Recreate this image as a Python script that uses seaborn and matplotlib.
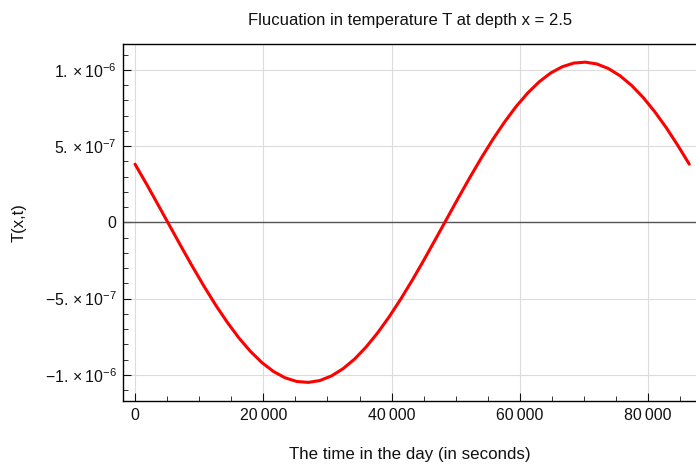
import matplotlib
matplotlib.use("Agg")
import matplotlib.pyplot as plt
import seaborn as sns
import pandas as pd
from matplotlib.ticker import MultipleLocator, FixedLocator

# time in seconds (every 1800 s) and temperature fluctuation
time_s = [1800 * k for k in range(49)]
temp = [0.381, 0.250, 0.114, -0.023, -0.160, -0.294, -0.423, -0.545, -0.657,
        -0.759, -0.847, -0.921, -0.979, -1.020, -1.044, -1.050, -1.038, -1.008,
        -0.961, -0.898, -0.819, -0.726, -0.621, -0.505, -0.381, -0.250, -0.114,
        0.023, 0.160, 0.294, 0.423, 0.545, 0.657, 0.759, 0.847, 0.921, 0.979,
        1.020, 1.044, 1.050, 1.038, 1.008, 0.961, 0.898, 0.819, 0.726, 0.621,
        0.505, 0.381]
temp = [v * 1e-6 for v in temp]

x_ticks = [0, 20000, 40000, 60000, 80000]
x_labels = ["0", "20\u2009000", "40\u2009000", "60\u2009000", "80\u2009000"]
y_ticks = [-1e-6, -5e-7, 0, 5e-7, 1e-6]
y_labels = [r"$\mathregular{-1.\times10^{-6}}$", r"$\mathregular{-5.\times10^{-7}}$", "0",
            r"$\mathregular{5.\times10^{-7}}$", r"$\mathregular{1.\times10^{-6}}$"]

df = pd.DataFrame({"t": time_s, "T": temp})

sns.set_style("white")
plt.rcParams["font.family"] = ["Liberation Sans", "DejaVu Sans"]
plt.rcParams["mathtext.fontset"] = "custom"
plt.rcParams["mathtext.rm"] = "Liberation Sans"
plt.rcParams["mathtext.it"] = "Liberation Sans:italic"
plt.rcParams["axes.unicode_minus"] = True
plt.rcParams["text.color"] = "#111111"
plt.rcParams["axes.labelcolor"] = "#111111"

fig = plt.figure(figsize=(6.96, 4.65), dpi=100)
ax = fig.add_axes([0.1772, 0.137, 0.8228, 0.7677])

ax.axhline(0, color="#555555", lw=1.0, zorder=1)
sns.lineplot(data=df, x="t", y="T", ax=ax, color="#ff0000", lw=2.2, zorder=3)

ax.set_xlim(-1824, 87450)
ax.set_ylim(-1.174e-6, 1.167e-6)

ax.xaxis.set_major_locator(FixedLocator(x_ticks))
ax.set_xticklabels(x_labels)
ax.xaxis.set_minor_locator(MultipleLocator(5000))
ax.yaxis.set_major_locator(FixedLocator(y_ticks))
ax.set_yticklabels(y_labels)
ax.yaxis.set_minor_locator(MultipleLocator(1e-7))

ax.grid(True, which="major", color="#dcdcdc", lw=0.8)
ax.set_axisbelow(True)
ax.tick_params(which="major", direction="in", length=6, width=0.8, labelsize=11.4,
               top=False, right=False, bottom=True, left=True, pad=5, colors="#111111")
ax.tick_params(which="minor", direction="in", length=3.5, width=0.6, colors="#111111",
               top=False, right=False, bottom=True, left=True)

for s in ["left", "bottom", "top"]:
    ax.spines[s].set_visible(True)
    ax.spines[s].set_color("black")
    ax.spines[s].set_linewidth(1.0)
ax.spines["right"].set_visible(False)

ax.set_title("Flucuation in temperature T at depth x = 2.5", fontsize=12, pad=14)
ax.set_xlabel("The time in the day (in seconds)", fontsize=12.2, labelpad=17)
ax.set_ylabel("T(x,t)", fontsize=12, labelpad=13)

fig.savefig("out.png", dpi=100)
